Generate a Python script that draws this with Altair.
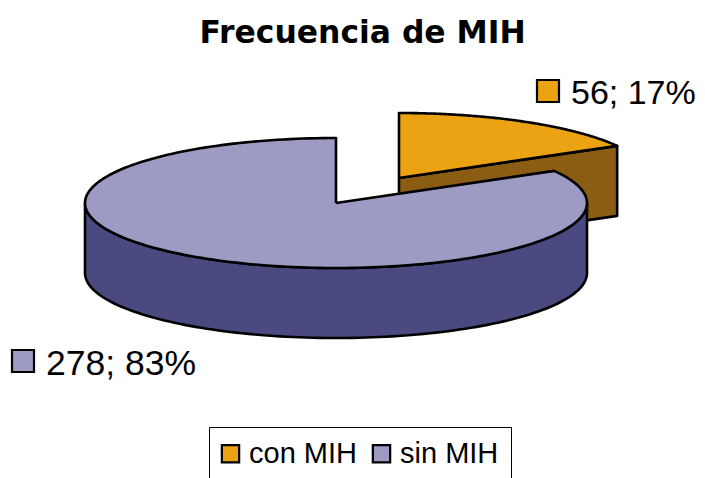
import numpy as np
import pandas as pd
import altair as alt

categories = ["con MIH", "sin MIH"]
values = [56, 278]
labels = ["56; 17%", "278; 83%"]
top_colors = ["#EBA313", "#9D9BC4"]
side_colors = ["#8B5D12", "#4B4A80"]
title_text = "Frecuencia de MIH"

# view geometry of the tilted disc, in the page's pixel frame
RX, RY, DEPTH = 251, 65, 70
CENTER = {"sin MIH": (336, 203), "con MIH": (399, 178)}
TOP = 50  # plot top offset
PAD = 8


def rim(cx, cy, a0, a1, n=120):
    a = np.radians(np.linspace(a0, a1, n))
    return cx + RX * np.sin(a), cy - RY * np.cos(a)


split = 360 * values[0] / sum(values)
rows = []


def add(name, part, xs, ys, draw):
    for i, (x, y) in enumerate(zip(xs, ys)):
        rows.append(dict(poly=name, part=part, x=float(x), y=float(y), i=i, draw=draw))


# con MIH wedge
cx, cy = CENTER["con MIH"]
rx, ry = rim(cx, cy, split, split, 1)
add("con_side", "side", [cx, rx[0], rx[0], cx, cx], [cy, ry[0], ry[0] + DEPTH, cy + DEPTH, cy], 0)
xs, ys = rim(cx, cy, 0, split)
add("con_top", "top", [cx, *xs, cx], [cy, *ys, cy], 1)

# sin MIH wedge
cx, cy = CENTER["sin MIH"]
xs, ys = rim(cx, cy, 90, 270)
add("sin_side", "side", [*xs, *xs[::-1], xs[0]], [*ys, *(ys[::-1] + DEPTH), ys[0]], 2)
xs, ys = rim(cx, cy, split, 360, 200)
add("sin_top", "top", [cx, *xs, cx], [cy, *ys, cy], 3)

df = pd.DataFrame(rows)
W, H = 689, 478 - PAD - TOP
x_scale = alt.Scale(domain=[PAD, PAD + W], range=[0, W], nice=False, zero=False)
y_scale = alt.Scale(domain=[PAD + TOP, PAD + TOP + H], range=[0, H], nice=False, zero=False)
X = alt.X("x:Q", scale=x_scale, axis=None)
Y = alt.Y("y:Q", scale=y_scale, axis=None)

fills = dict(con_side=side_colors[0], con_top=top_colors[0], sin_side=side_colors[1], sin_top=top_colors[1])
layers = []
for name in ["con_side", "con_top", "sin_side", "sin_top"]:
    layers.append(
        alt.Chart(df[df.poly == name])
        .mark_line(fill=fills[name], stroke="black", strokeWidth=2.6, strokeJoin="round", interpolate="linear")
        .encode(x=X, y=Y, order="i:Q")
    )

lab = pd.DataFrame({
    "cat": categories,
    "label": labels,
    "sx": [548, 23],
    "sy": [91, 361],
    "tx": [571, 46],
    "ty": [104, 375],
    "fs": [34, 35.5],
})
swatch = (
    alt.Chart(lab)
    .mark_point(shape="square", filled=True, size=484, stroke="black", strokeWidth=2.2, opacity=1)
    .encode(
        x=alt.X("sx:Q", scale=x_scale, axis=None),
        y=alt.Y("sy:Q", scale=y_scale, axis=None),
        fill=alt.Fill(
            "cat:N",
            scale=alt.Scale(domain=categories, range=top_colors),
            legend=alt.Legend(
                title=None,
                orient="none",
                legendX=201,
                legendY=369,
                direction="horizontal",
                columns=2,
                strokeColor="black",
                padding=12,
                symbolType="square",
                symbolSize=300,
                symbolOffset=-5,
                symbolStrokeColor="black",
                symbolStrokeWidth=2.2,
                labelFont="Liberation Sans",
                labelFontSize=29,
                labelColor="black",
                labelLimit=200,
                labelOffset=4,
                columnPadding=11,
                rowPadding=0,
            ),
        ),
    )
)
text = (
    alt.Chart(lab)
    .mark_text(align="left", baseline="alphabetic", font="Liberation Sans", color="black")
    .encode(
        x=alt.X("tx:Q", scale=x_scale, axis=None),
        y=alt.Y("ty:Q", scale=y_scale, axis=None),
        text="label:N",
        size=alt.Size("fs:Q", scale=None, legend=None),
    )
)

chart = (
    alt.layer(*layers, swatch, text)
    .resolve_scale(x="shared", y="shared")
    .properties(
        width=W,
        height=H,
        padding={"left": 0, "top": TOP, "right": 0, "bottom": 0},
        autosize=alt.AutoSizeParams(type="none"),
        background="white",
        title=alt.TitleParams(
            title_text,
            font="DejaVu Sans",
            fontWeight="bold",
            fontSize=31.4,
            color="black",
            anchor="start",
            dx=192,
            offset=9,
        ),
    )
    .configure_view(stroke=None)
)
chart.save("out.html", embed_options={"renderer": "svg", "actions": False})
